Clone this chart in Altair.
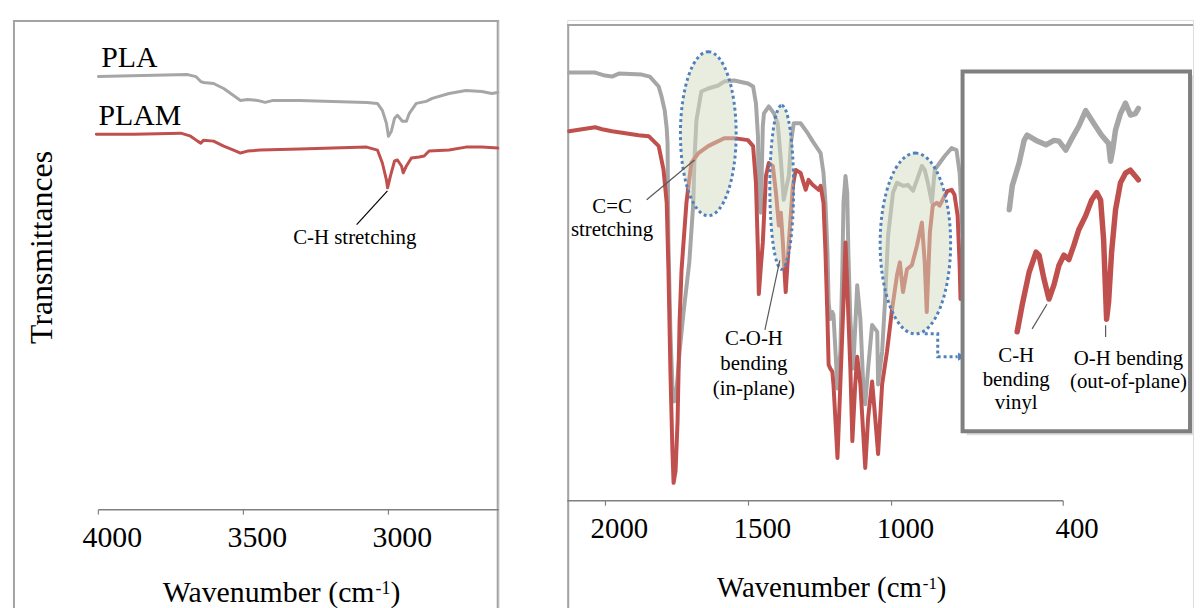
import altair as alt
import pandas as pd

# ---------------- data ----------------
# Left panel: 4000 - 2620 cm-1
left_pla_wn = [4000, 3692, 3664, 3647, 3637, 3603, 3568, 3534, 3510, 3486,
               3452, 3425, 3397, 3305, 3192, 3075, 3038, 3021, 3007, 3000,
               2990, 2979, 2969, 2952, 2938, 2928, 2904, 2870, 2849, 2791,
               2733, 2678, 2644, 2623]
left_pla_t = [87.2, 87.6, 87.2, 86.2, 86.0, 85.8, 84.8, 83.4, 82.4, 82.6,
              82.4, 82.0, 82.4, 82.4, 82.2, 82.0, 81.8, 80.4, 77.8, 75.2,
              76.2, 78.8, 79.4, 78.2, 78.2, 79.8, 81.8, 82.2, 82.8, 83.8,
              84.4, 84.2, 83.8, 84.0]
left_plam_wn = [4007, 3877, 3716, 3682, 3658, 3647, 3637, 3603, 3568, 3534,
                3510, 3486, 3442, 3305, 3192, 3075, 3038, 3021, 3007, 3003,
                2993, 2979, 2969, 2955, 2949, 2938, 2921, 2894, 2877, 2860,
                2791, 2733, 2678, 2623]
left_plam_t = [75.6, 75.6, 75.8, 75.2, 74.2, 73.8, 74.4, 74.2, 73.2, 72.4,
               71.8, 72.2, 72.4, 72.6, 72.8, 73.0, 72.4, 69.8, 66.4, 64.8,
               67.2, 70.2, 70.4, 69.2, 67.8, 69.2, 70.8, 71.0, 71.2, 72.2,
               72.4, 73.0, 73.0, 72.8]

# Right panel: 2130 - 750 cm-1
right_pla_wn = [2127, 2036, 2002, 1977, 1953, 1873, 1845, 1814, 1804, 1793,
                1786, 1783, 1780, 1773, 1766, 1759, 1752, 1741, 1727, 1707,
                1693, 1689, 1682, 1665, 1641, 1606, 1585, 1550, 1502, 1484,
                1474, 1467, 1464, 1457, 1450, 1446, 1429, 1411, 1398, 1387,
                1377, 1359, 1352, 1342, 1318, 1293, 1276, 1255, 1248, 1238,
                1231, 1224, 1220, 1214, 1207, 1203, 1196, 1189, 1179, 1172,
                1168, 1161, 1155, 1151, 1144, 1134, 1120, 1109, 1099, 1092,
                1082, 1068, 1050, 1047, 1033, 1023, 1012, 995, 981, 960,
                943, 925, 911, 894, 884, 873, 859, 849, 832, 814,
                790, 773, 762, 755, 752]
right_pla_t = [86.2, 86.2, 85.6, 85.4, 86.0, 85.8, 85.4, 83.4, 81.4, 78.6,
               75.0, 72.0, 52.0, 34.0, 23.0, 20.0, 22.0, 30.0, 38.0, 48.0,
               60.0, 68.6, 76.6, 82.4, 83.0, 83.6, 84.4, 84.6, 84.0, 83.4,
               80.0, 73.4, 60.0, 58.0, 75.4, 78.0, 79.4, 78.0, 76.0, 68.6,
               60.6, 65.4, 72.0, 76.0, 76.0, 74.0, 72.4, 70.6, 70.0, 66.0,
               60.0, 50.0, 40.0, 36.6, 38.0, 37.4, 30.0, 22.6, 30.0, 46.6,
               60.0, 65.4, 62.0, 50.0, 36.6, 26.6, 43.4, 36.6, 23.4, 19.4,
               26.6, 35.4, 34.0, 23.4, 30.0, 40.0, 53.4, 62.0, 64.0, 63.4,
               63.6, 62.4, 64.6, 67.4, 66.6, 64.0, 60.0, 66.6, 68.0, 69.4,
               71.0, 70.6, 66.0, 57.4, 54.0]
right_plam_wn = [2127, 2082, 2036, 2012, 1977, 1884, 1849, 1814, 1797, 1786,
                 1780, 1773, 1766, 1762, 1755, 1748, 1741, 1734, 1717, 1700,
                 1675, 1641, 1620, 1585, 1550, 1502, 1484, 1474, 1467, 1464,
                 1457, 1450, 1439, 1429, 1415, 1404, 1394, 1387, 1380, 1370,
                 1359, 1345, 1335, 1318, 1300, 1290, 1276, 1255, 1248, 1238,
                 1231, 1224, 1220, 1214, 1207, 1203, 1189, 1179, 1168, 1161,
                 1155, 1144, 1137, 1127, 1120, 1109, 1092, 1082, 1068, 1057,
                 1047, 1033, 1016, 998, 981, 971, 960, 946, 929, 911,
                 894, 884, 877, 866, 856, 842, 832, 814, 804, 790,
                 780, 769, 762, 759]
right_plam_t = [74.4, 74.8, 75.2, 74.8, 74.4, 73.6, 73.4, 71.4, 66.6, 60.0,
                46.6, 26.0, 10.0, 3.6, 6.0, 16.0, 36.0, 46.6, 60.0, 68.0,
                70.0, 71.4, 72.0, 73.0, 73.0, 72.6, 71.4, 64.0, 50.0, 41.6,
                47.0, 52.0, 65.4, 68.0, 67.4, 62.0, 55.4, 58.0, 52.0, 42.0,
                52.0, 63.4, 66.6, 66.0, 62.6, 64.6, 63.6, 62.6, 63.4, 60.0,
                50.0, 36.6, 27.4, 26.6, 26.0, 23.4, 8.6, 23.4, 40.0, 52.0,
                43.4, 26.6, 12.0, 23.4, 29.0, 23.4, 6.6, 16.6, 24.0, 16.6,
                9.4, 23.4, 30.0, 38.6, 45.4, 48.0, 42.0, 46.6, 47.4, 51.4,
                56.0, 48.0, 38.0, 54.0, 59.4, 60.0, 59.4, 61.4, 62.4, 62.6,
                61.6, 57.4, 47.4, 40.6]

# Inset: zoom of the 1020 - 830 cm-1 region
inset_pla_wn = [1017.2, 1012.9, 1002.9, 995.8, 991.5, 978.6, 964.3, 952.8, 945.7, 935.7,
                928.5, 917.1, 907.1, 895.6, 884.2, 874.1, 871.3, 868.4, 864.1, 857.0,
                849.8, 842.7, 835.5, 831.2]
inset_pla_t = [54.0, 57.2, 60.3, 63.3, 64.0, 63.3, 62.7, 63.3, 63.2, 62.0,
               63.3, 65.2, 67.3, 65.6, 64.0, 62.9, 60.5, 61.9, 64.7, 66.9,
               68.3, 66.7, 66.9, 67.6]
inset_plam_wn = [1005.8, 998.6, 988.6, 978.6, 974.3, 967.2, 960.0, 952.8, 945.7, 938.5,
                 931.4, 924.2, 917.1, 907.1, 898.5, 891.3, 885.6, 881.3, 877.0, 874.1,
                 869.8, 864.1, 857.0, 849.8, 842.7, 835.5, 831.2]
inset_plam_t = [37.6, 41.2, 45.6, 48.3, 47.9, 44.7, 42.0, 43.9, 46.5, 47.9,
                47.3, 49.2, 51.3, 53.2, 55.3, 56.3, 55.3, 50.0, 39.3, 41.6,
                48.3, 54.0, 57.6, 58.9, 59.3, 58.5, 58.0]

left_ticks = [4000, 3500, 3000]
right_ticks = [2000, 1500, 1000, 400]

# annotations (text, wavenumber, transmittance)
left_series_labels = ["PLA", "PLAM"]
left_series_wn = [3990, 4000]
left_series_t = [89.2, 77.4]
left_note = ["C-H stretching"]
left_note_wn = [3116]
left_note_t = [53.4]
left_leader = {"wn": [3109.6], "wn2": [3003.4], "t": [57.4], "t2": [64.2]}

right_notes = ["C=C", "stretching", "C-O-H", "bending", "(in-plane)"]
right_notes_wn = [1977, 1977, 1481, 1481, 1481]
right_notes_t = [58.0, 53.4, 31.4, 26.4, 21.2]
right_leaders = {"wn": [1856, 1442.7], "wn2": [1689, 1390.6], "t": [60.6, 34.4], "t2": [68.6, 48.4]}

inset_notes = ["C-H", "bending", "vinyl", "O-H bending", "(out-of-plane)"]
inset_notes_wn = [1007.2, 1007.2, 1007.2, 845.5, 845.5]
inset_notes_t = [33.5, 30.3, 27.2, 33.2, 30.0]
inset_leaders = {"wn": [984.3, 878.4], "wn2": [962.9, 878.4], "t": [38.0, 38.5], "t2": [41.3, 36.9]}

ellipse_names = ["E1", "E2", "E3"]
ellipse_wn = [1640.6, 1384, 916.7]
ellipse_t = [73.9, 63.1, 51.8]
connector_wn = [884, 838.5, 838.5, 769]
connector_t = [33.6, 33.6, 29.0, 29.0]
arrow_wn = [755]
arrow_t = [29.0]

# ---------------- styling ----------------
SERIF = "Liberation Serif"
GRAY = "#a6a6a6"
RED = "#c0504d"
BLUE = "#4f81bd"
FRAME = "#a3a3a3"
AXIS = "#808080"
W_L, W_R, H = 489, 630, 592

XL = alt.Scale(domain=[4294.5, 2619.9], nice=False, zero=False)
YL = alt.Scale(domain=[-19.8, 98.6], nice=False, zero=False)
XR = alt.Scale(domain=[2133.7, -53.8], nice=False, zero=False)
YR = alt.Scale(domain=[-21.6, 96.8], nice=False, zero=False)
XI = alt.Scale(domain=[1654.0, 752.5], nice=False, zero=False)
YI = alt.Scale(domain=[0.533, 79.467], nice=False, zero=False)

one = pd.DataFrame({"k": [0]})


def X(xs):
    return alt.X("wn:Q", scale=xs, axis=None)


def Y(ys, field="t"):
    return alt.Y(f"{field}:Q", scale=ys, axis=None)


def line(wn, t, xs, ys, color, width):
    df = pd.DataFrame({"wn": wn, "t": t})
    return alt.Chart(df).mark_line(color=color, strokeWidth=width, strokeJoin="round",
                                   strokeCap="round").encode(x=X(xs), y=Y(ys))


def axis_layers(x1, x2, xs, ys, values, size):
    base = pd.DataFrame({"wn": [x1], "wn2": [x2], "t": [0]})
    domain = alt.Chart(base).mark_rule(color=AXIS, strokeWidth=1.5).encode(
        x=X(xs), x2="wn2:Q", y=Y(ys))
    n = len(values)
    tdf = pd.DataFrame({"wn": values, "t": [0.0] * n, "t2": [-1.0] * n,
                        "tl": [-7.6] * n, "label": [str(v) for v in values]})
    ticks = alt.Chart(tdf).mark_rule(color=AXIS, strokeWidth=1.2).encode(
        x=X(xs), y=Y(ys), y2="t2:Q")
    labels = alt.Chart(tdf).mark_text(font=SERIF, fontSize=size, align="center",
                                      baseline="alphabetic", color="black", dx=14).encode(
        x=X(xs), y=Y(ys, "tl"), text="label:N")
    return [domain, ticks, labels]


def texts(labels, wn, t, xs, ys, size, align="center"):
    df = pd.DataFrame({"label": labels, "wn": wn, "t": t})
    return alt.Chart(df).mark_text(font=SERIF, fontSize=size, align=align, baseline="alphabetic",
                                   color="black").encode(x=X(xs), y=Y(ys), text="label:N")


def leaders(d, xs, ys, color, width):
    df = pd.DataFrame(d)
    return alt.Chart(df).mark_rule(color=color, strokeWidth=width).encode(
        x=X(xs), x2="wn2:Q", y=Y(ys), y2="t2:Q")


def vrule(x, y1, y2, color, w):
    return alt.Chart(one).mark_rule(color=color, strokeWidth=w).encode(
        x=alt.value(x), y=alt.value(y1), y2=alt.value(y2))


def hrule(y, x1, x2, color, w):
    return alt.Chart(one).mark_rule(color=color, strokeWidth=w).encode(
        y=alt.value(y), x=alt.value(x1), x2=alt.value(x2))


def ptext(s, x, y, size, align="left", angle=0):
    return alt.Chart(one).mark_text(text=s, font=SERIF, fontSize=size, align=align,
                                    baseline="alphabetic", color="black", angle=angle).encode(
        x=alt.value(x), y=alt.value(y))


ell_df = pd.DataFrame({"name": ellipse_names, "wn": ellipse_wn, "t": ellipse_t})


def ellipse(name, ratio, ry):
    path = f"M0,-1A{ratio},1,0,1,1,0,1A{ratio},1,0,1,1,0,-1Z"
    return alt.Chart(ell_df).transform_filter(alt.datum.name == name).mark_point(
        shape=path, size=(2 * ry) ** 2, filled=True, fill="#d3dbbf", fillOpacity=0.5,
        stroke=BLUE, strokeWidth=3, strokeDash=[3, 3], opacity=1).encode(x=X(XR), y=Y(YR))


# ---------------- left panel ----------------
left = alt.layer(
    vrule(1, 0, H, FRAME, 2), hrule(1, 0, W_L, FRAME, 2), vrule(488, 0, H, FRAME, 2),
    *axis_layers(4000, 2619.9, XL, YL, left_ticks, 30),
    line(left_pla_wn, left_pla_t, XL, YL, GRAY, 3),
    line(left_plam_wn, left_plam_t, XL, YL, RED, 3),
    texts(left_series_labels, left_series_wn, left_series_t, XL, YL, 30, "left"),
    texts(left_note, left_note_wn, left_note_t, XL, YL, 21),
    leaders(left_leader, XL, YL, "black", 1.2),
    ptext("Transmittances", 39, 229, 32, "center", 270),
    ptext("Wavenumber (cm", 364, 586, 30, "right"),
    ptext("-1", 365, 578, 18, "left"),
    ptext(")", 380, 586, 30, "left"),
).properties(width=W_L, height=H)

# ---------------- right panel ----------------
conn_df = pd.DataFrame({"wn": connector_wn, "t": connector_t, "i": list(range(len(connector_wn)))})
connector = alt.Chart(conn_df).mark_line(color=BLUE, strokeWidth=3, strokeDash=[3, 3]).encode(
    x=X(XR), y=Y(YR), order="i:Q")
arrow = alt.Chart(pd.DataFrame({"wn": arrow_wn, "t": arrow_t})).mark_point(
    shape="triangle-right", filled=True, color=BLUE, size=70, opacity=1).encode(x=X(XR), y=Y(YR))

main_r = alt.layer(
    vrule(1, 4, H, FRAME, 2), hrule(5, 0, W_R, FRAME, 2),
    *axis_layers(2133.7, 400, XR, YR, right_ticks, 29),
    line(right_pla_wn, right_pla_t, XR, YR, GRAY, 4),
    line(right_plam_wn, right_plam_t, XR, YR, RED, 4),
    ellipse("E1", 0.34, 82.5), ellipse("E2", 0.145, 82.5), ellipse("E3", 0.39, 91),
    leaders(right_leaders, XR, YR, "#595959", 1.2),
    texts(right_notes, right_notes_wn, right_notes_t, XR, YR, 21),
    connector, arrow,
    ptext("Wavenumber (cm", 357, 581, 29, "right"),
    ptext("-1", 358, 573, 17, "left"),
    ptext(")", 372, 581, 29, "left"),
)

shadow = alt.Chart(one).mark_rect(fill="#c8c8c8", opacity=0.6).encode(
    x=alt.value(402), x2=alt.value(630), y=alt.value(56), y2=alt.value(418))
box = alt.Chart(one).mark_rect(fill="white", stroke="#7f7f7f", strokeWidth=4).encode(
    x=alt.value(398), x2=alt.value(627), y=alt.value(52), y2=alt.value(414))

inset = alt.layer(
    shadow, box,
    line(inset_pla_wn, inset_pla_t, XI, YI, GRAY, 5.5),
    line(inset_plam_wn, inset_plam_t, XI, YI, RED, 5.5),
    leaders(inset_leaders, XI, YI, "#595959", 1.2),
    texts(inset_notes, inset_notes_wn, inset_notes_t, XI, YI, 21),
)

right = alt.layer(main_r, inset).resolve_scale(x="independent", y="independent").properties(
    width=W_R, height=H)

chart = alt.hconcat(left, right, spacing=65).properties(
    padding={"left": 3, "top": 8, "right": 0, "bottom": 0}
).configure_view(stroke=None).configure(font=SERIF)

chart.save("out.html", embed_options={"renderer": "svg", "actions": False})
